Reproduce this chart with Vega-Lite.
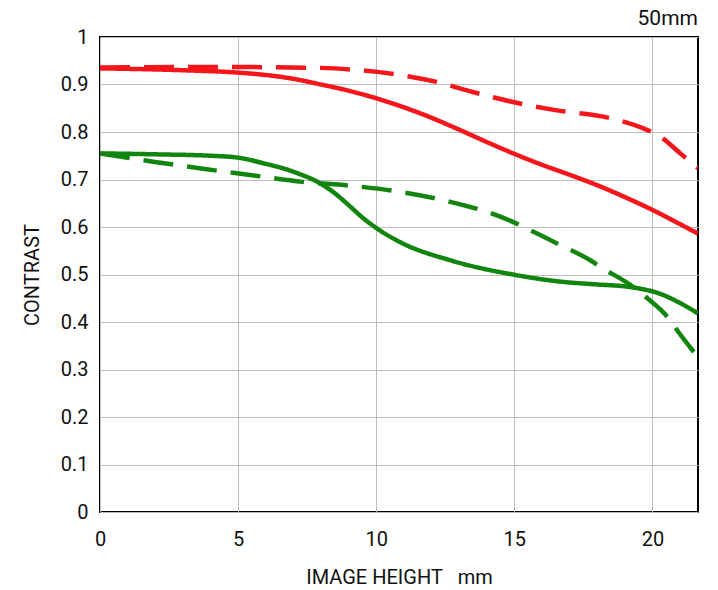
{
  "$schema": "https://vega.github.io/schema/vega-lite/v6.json",
  "width": 598,
  "height": 475,
  "autosize": {"type": "none"},
  "padding": {"left": 100, "top": 37, "right": 20, "bottom": 78},
  "background": "white",
  "title": {"text": "50mm", "anchor": "end", "orient": "top", "offset": -2, "fontSize": 21, "fontWeight": "normal", "font": "Roboto", "color": "#111111"},
  "config": {
    "view": {"stroke": "#000000", "strokeWidth": 2},
    "axis": {"labelFont": "Roboto", "titleFont": "Roboto", "labelFontSize": 20, "titleFontSize": 20, "titleFontWeight": "normal", "labelColor": "#111111", "titleColor": "#111111", "gridColor": "#bdbdbd", "gridWidth": 1, "gridOpacity": 1, "ticks": false, "domain": false}
  },
  "data": {"values": [
    {"x": 0, "y": 0.934, "s": "r10", "freq": "10", "dir": "S"},
    {"x": 3, "y": 0.93, "s": "r10", "freq": "10", "dir": "S"},
    {"x": 5, "y": 0.925, "s": "r10", "freq": "10", "dir": "S"},
    {"x": 6, "y": 0.92, "s": "r10", "freq": "10", "dir": "S"},
    {"x": 7, "y": 0.912, "s": "r10", "freq": "10", "dir": "S"},
    {"x": 8, "y": 0.9, "s": "r10", "freq": "10", "dir": "S"},
    {"x": 9, "y": 0.887, "s": "r10", "freq": "10", "dir": "S"},
    {"x": 10, "y": 0.871, "s": "r10", "freq": "10", "dir": "S"},
    {"x": 11, "y": 0.852, "s": "r10", "freq": "10", "dir": "S"},
    {"x": 12, "y": 0.83, "s": "r10", "freq": "10", "dir": "S"},
    {"x": 13, "y": 0.805, "s": "r10", "freq": "10", "dir": "S"},
    {"x": 14, "y": 0.779, "s": "r10", "freq": "10", "dir": "S"},
    {"x": 15, "y": 0.754, "s": "r10", "freq": "10", "dir": "S"},
    {"x": 16, "y": 0.731, "s": "r10", "freq": "10", "dir": "S"},
    {"x": 17, "y": 0.71, "s": "r10", "freq": "10", "dir": "S"},
    {"x": 18, "y": 0.688, "s": "r10", "freq": "10", "dir": "S"},
    {"x": 19, "y": 0.663, "s": "r10", "freq": "10", "dir": "S"},
    {"x": 20, "y": 0.636, "s": "r10", "freq": "10", "dir": "S"},
    {"x": 21, "y": 0.606, "s": "r10", "freq": "10", "dir": "S"},
    {"x": 21.65, "y": 0.586, "s": "r10", "freq": "10", "dir": "S"},

    {"x": 0, "y": 0.936, "s": "r10m", "freq": "10", "dir": "M"},
    {"x": 4, "y": 0.937, "s": "r10m", "freq": "10", "dir": "M"},
    {"x": 8, "y": 0.935, "s": "r10m", "freq": "10", "dir": "M"},
    {"x": 9.42, "y": 0.93, "s": "r10m", "freq": "10", "dir": "M"},
    {"x": 10.87, "y": 0.92, "s": "r10m", "freq": "10", "dir": "M"},
    {"x": 12.14, "y": 0.906, "s": "r10m", "freq": "10", "dir": "M"},
    {"x": 13.26, "y": 0.888, "s": "r10m", "freq": "10", "dir": "M"},
    {"x": 14.31, "y": 0.872, "s": "r10m", "freq": "10", "dir": "M"},
    {"x": 15.04, "y": 0.862, "s": "r10m", "freq": "10", "dir": "M"},
    {"x": 16.49, "y": 0.846, "s": "r10m", "freq": "10", "dir": "M"},
    {"x": 18.48, "y": 0.829, "s": "r10m", "freq": "10", "dir": "M"},
    {"x": 19.57, "y": 0.81, "s": "r10m", "freq": "10", "dir": "M"},
    {"x": 20.29, "y": 0.79, "s": "r10m", "freq": "10", "dir": "M"},
    {"x": 21.01, "y": 0.755, "s": "r10m", "freq": "10", "dir": "M"},
    {"x": 21.65, "y": 0.724, "s": "r10m", "freq": "10", "dir": "M"},

    {"x": 0, "y": 0.755, "s": "g30", "freq": "30", "dir": "S"},
    {"x": 2, "y": 0.753, "s": "g30", "freq": "30", "dir": "S"},
    {"x": 4, "y": 0.75, "s": "g30", "freq": "30", "dir": "S"},
    {"x": 5, "y": 0.746, "s": "g30", "freq": "30", "dir": "S"},
    {"x": 6, "y": 0.733, "s": "g30", "freq": "30", "dir": "S"},
    {"x": 6.6, "y": 0.724, "s": "g30", "freq": "30", "dir": "S"},
    {"x": 7.25, "y": 0.711, "s": "g30", "freq": "30", "dir": "S"},
    {"x": 8, "y": 0.691, "s": "g30", "freq": "30", "dir": "S"},
    {"x": 8.5, "y": 0.671, "s": "g30", "freq": "30", "dir": "S"},
    {"x": 9.06, "y": 0.643, "s": "g30", "freq": "30", "dir": "S"},
    {"x": 9.5, "y": 0.62, "s": "g30", "freq": "30", "dir": "S"},
    {"x": 10, "y": 0.598, "s": "g30", "freq": "30", "dir": "S"},
    {"x": 10.87, "y": 0.568, "s": "g30", "freq": "30", "dir": "S"},
    {"x": 12.68, "y": 0.53, "s": "g30", "freq": "30", "dir": "S"},
    {"x": 15.04, "y": 0.499, "s": "g30", "freq": "30", "dir": "S"},
    {"x": 16.67, "y": 0.485, "s": "g30", "freq": "30", "dir": "S"},
    {"x": 18, "y": 0.479, "s": "g30", "freq": "30", "dir": "S"},
    {"x": 19, "y": 0.475, "s": "g30", "freq": "30", "dir": "S"},
    {"x": 19.57, "y": 0.47, "s": "g30", "freq": "30", "dir": "S"},
    {"x": 20.2, "y": 0.461, "s": "g30", "freq": "30", "dir": "S"},
    {"x": 21, "y": 0.44, "s": "g30", "freq": "30", "dir": "S"},
    {"x": 21.65, "y": 0.418, "s": "g30", "freq": "30", "dir": "S"},

    {"x": 0, "y": 0.755, "s": "g30m", "freq": "30", "dir": "M"},
    {"x": 1.99, "y": 0.737, "s": "g30m", "freq": "30", "dir": "M"},
    {"x": 3.8, "y": 0.722, "s": "g30m", "freq": "30", "dir": "M"},
    {"x": 5.5, "y": 0.709, "s": "g30m", "freq": "30", "dir": "M"},
    {"x": 7.32, "y": 0.695, "s": "g30m", "freq": "30", "dir": "M"},
    {"x": 9.06, "y": 0.687, "s": "g30m", "freq": "30", "dir": "M"},
    {"x": 10.87, "y": 0.674, "s": "g30m", "freq": "30", "dir": "M"},
    {"x": 12.68, "y": 0.653, "s": "g30m", "freq": "30", "dir": "M"},
    {"x": 14.49, "y": 0.622, "s": "g30m", "freq": "30", "dir": "M"},
    {"x": 15.94, "y": 0.583, "s": "g30m", "freq": "30", "dir": "M"},
    {"x": 16.67, "y": 0.562, "s": "g30m", "freq": "30", "dir": "M"},
    {"x": 17.75, "y": 0.53, "s": "g30m", "freq": "30", "dir": "M"},
    {"x": 18.2, "y": 0.513, "s": "g30m", "freq": "30", "dir": "M"},
    {"x": 19.2, "y": 0.478, "s": "g30m", "freq": "30", "dir": "M"},
    {"x": 19.75, "y": 0.453, "s": "g30m", "freq": "30", "dir": "M"},
    {"x": 20.58, "y": 0.408, "s": "g30m", "freq": "30", "dir": "M"},
    {"x": 20.94, "y": 0.379, "s": "g30m", "freq": "30", "dir": "M"},
    {"x": 21.65, "y": 0.326, "s": "g30m", "freq": "30", "dir": "M"}
  ]},
  "mark": {"type": "line", "interpolate": "monotone", "strokeWidth": 4.5, "strokeCap": "butt", "clip": true},
  "encoding": {
    "x": {"field": "x", "type": "quantitative", "scale": {"domain": [0, 21.65], "nice": false, "zero": false},
      "axis": {"values": [0, 5, 10, 15, 20], "title": "IMAGE HEIGHT\u00a0\u00a0\u00a0mm", "labelPadding": 17, "titlePadding": 18, "labelFlush": false}},
    "y": {"field": "y", "type": "quantitative", "scale": {"domain": [0, 1], "nice": false},
      "axis": {"values": [0, 0.1, 0.2, 0.3, 0.4, 0.5, 0.6, 0.7, 0.8, 0.9, 1], "format": "~g", "title": "CONTRAST", "labelPadding": 12, "titlePadding": 18}},
    "color": {"field": "freq", "type": "nominal", "scale": {"domain": ["10", "30"], "range": ["#f5161b", "#12850f"]}, "legend": null},
    "strokeDash": {"field": "dir", "type": "nominal", "scale": {"domain": ["S", "M"], "range": [[1, 0], [30, 14]]}, "legend": null},
    "detail": {"field": "s", "type": "nominal"}
  }
}
